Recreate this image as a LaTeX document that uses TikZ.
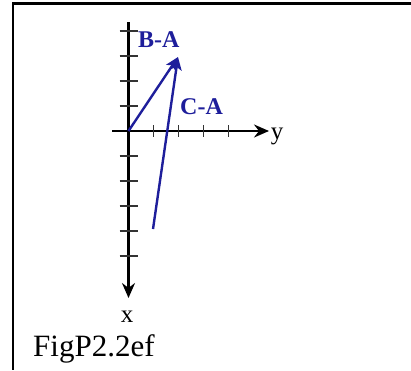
\documentclass[tikz,border=0pt]{standalone}
\usepackage{fontspec}
\setmainfont{Liberation Serif}
\usetikzlibrary{arrows.meta}
\definecolor{vecblue}{RGB}{30,30,155}
\begin{document}
\begin{tikzpicture}[x=1pt,y=-1pt,
  axis/.style={line width=2.3pt,black,-{Stealth[length=15pt,width=13pt,inset=5pt]}},
  tick/.style={line width=1.6pt,black!80},
  vec/.style={line width=2.4pt,vecblue,-{Stealth[length=13pt,width=11pt,inset=3pt]}},
  veclabel/.style={text=vecblue,font=\fontsize{24}{28}\selectfont\bfseries,inner sep=0pt,anchor=base west},
  axlabel/.style={font=\fontsize{25}{29}\selectfont,inner sep=0pt,anchor=base}]
\useasboundingbox (0,0) rectangle (411,370);
% frame
\draw[line width=2.6pt] (12,3.5) -- (411,3.5);
\draw[line width=2.4pt] (13,2.2) -- (13,370);
% axes
\coordinate (O) at (128.5,131);
\coordinate (ytop) at (128.5,22);
\coordinate (xend) at (128.5,298);
\coordinate (yleft) at (112,131);
\coordinate (yend) at (269,131);
\draw[line width=2.3pt] (ytop) -- (O);
\draw[axis] (O) -- (xend);
\draw[axis] (yleft) -- (yend);
\foreach \k in {-4,...,-1,1,2,...,5}
  \draw[tick] (119.5,131+25*\k) -- (137.5,131+25*\k);
\foreach \k in {1,...,4}
  \draw[tick] (128.5+25*\k,125) -- (128.5+25*\k,137);
% vectors
\coordinate (B) at (178,57);
\coordinate (C) at (153,229);
\draw[vec] (O) -- (B);
\draw[vec] (C) -- (B);
% labels
\node[veclabel] (BA) at (138,47) {B-A};
\node[veclabel] (CA) at (180,114) {C-A};
\node[axlabel] (ylab) at (277,139) {y};
\node[axlabel] (xlab) at (127,322) {x};
\node[font=\fontsize{31}{36}\selectfont,inner sep=0pt,anchor=base west] (fig) at (33,356) {FigP2.2ef};
\end{tikzpicture}
\end{document}
